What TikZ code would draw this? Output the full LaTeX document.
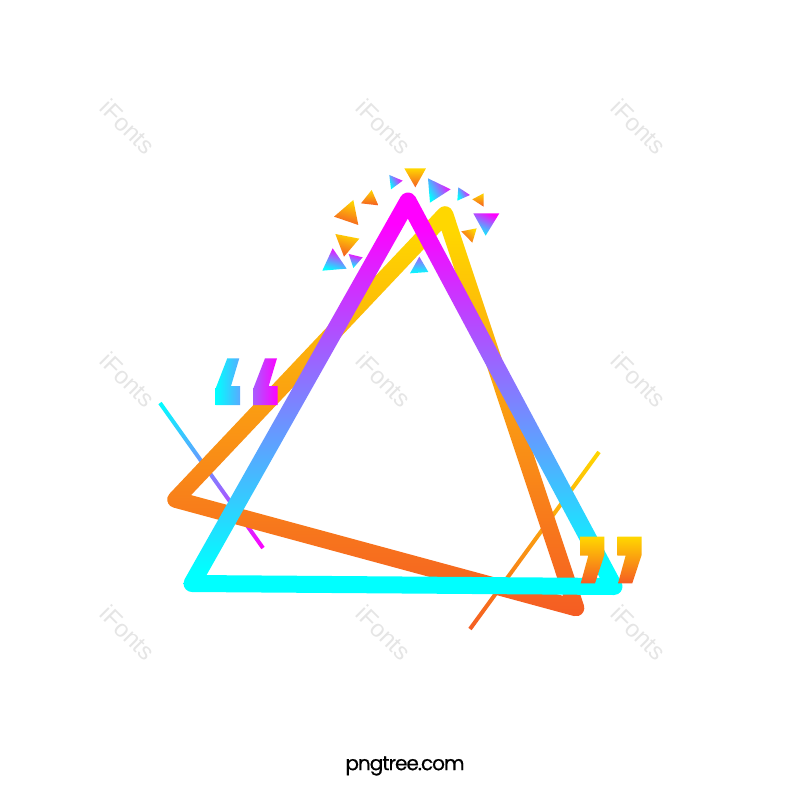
\documentclass[tikz,border=0pt]{standalone}
\usepackage{fontspec}
\newfontfamily\markfont{Liberation Sans}
\newfontfamily\brandfont[LetterSpace=-5,FakeBold=0.5]{Poppins}
\definecolor{hotpink}{RGB}{255,0,255}
\definecolor{aqua}{RGB}{0,255,255}
\definecolor{skyish}{RGB}{90,170,255}
\definecolor{violetish}{RGB}{170,90,255}
\definecolor{gold}{RGB}{255,215,0}
\definecolor{amber}{RGB}{250,150,20}
\definecolor{rust}{RGB}{245,92,35}
\pgfdeclareverticalshading{coolstroke}{100bp}{color(0bp)=(aqua); color(28bp)=(aqua); color(71bp)=(hotpink); color(100bp)=(hotpink)}
\pgfdeclareverticalshading{warmstroke}{100bp}{color(0bp)=(rust); color(25bp)=(rust); color(48bp)=(amber); color(72bp)=(gold); color(100bp)=(gold)}
\tikzset{
 wmark/.style={rotate=-45,text=black!10,font=\markfont\fontsize{24}{24}\selectfont},
 warm/.style={top color=gold,bottom color=rust,shading angle=#1},
 warm/.default=0,
 cool/.style={top color=hotpink,bottom color=aqua,shading angle=#1},
 cool/.default=0
}
\begin{document}
\begin{tikzpicture}[x=1pt,y=-1pt,line join=round]
 \useasboundingbox (0,0) rectangle (800,800);
 \fill[white] (0,0) rectangle (800,800);
 \foreach\mx in{128,384,639}{\foreach\my in{127,380,633}{\node[wmark] (mark\mx\my) at (\mx,\my){iFonts};}}
 % thin lines
 \shade[top color=aqua,bottom color=hotpink] (161.6,401.8)--(264.6,546.8)--(261.4,549.2)--(158.4,404.2)--cycle;
 \shade[warm] (600.6,453.2)--(471.6,630.2)--(468.4,627.8)--(597.4,450.8)--cycle;
 % big triangles
 \shade[shading=warmstroke,even odd rule] (438.97,208.8) arc[start angle=-136.6,end angle=-18.4,radius=8.3]--(583.88,605.38) arc[start angle=-18.4,end angle=105.2,radius=8.3]--(173.33,507.51) arc[start angle=105.2,end angle=223.4,radius=8.3]--cycle (441.5,230.3)--(563.2,595.9)--(191.1,495.1)--cycle;
 \shade[shading=coolstroke,even odd rule] (400.6,196.8) arc[start angle=-150.5,end angle=-28.1,radius=8.5]--(621.5,582.5) arc[start angle=-28.1,end angle=89.6,radius=8.5]--(192.06,592) arc[start angle=89.6,end angle=209.5,radius=8.5]--cycle (407.8,218.6)--(599.8,577.9)--(206.5,575.1)--cycle;
 % quotes
 \shade[left color=aqua,right color=skyish] (227.3,358.3)--(239.3,358.3)--(231,386)--(240,386)--(240,405)--(215.7,405)--(215.7,388.3)--cycle;
 \shade[left color=violetish,right color=hotpink] (265,358.3)--(277,358.3)--(268.7,386)--(277.7,386)--(277.7,405)--(253.4,405)--(253.4,388.3)--cycle;
 \foreach\i in{0,37.3}{
 \shade[warm,xshift=\i] (580,536.7)--(604.3,536.7)--(604.3,555)--(595,583.3)--(580.7,583.3)--(588.3,555.7)--(580,555.7)--cycle;
 }
 % little shards
 \begin{scope}[x=.3333pt,y=-.3333pt,xshift=310pt,yshift=-160pt]
 \shade[warm] (283,25)--(348,25)--(316,82)--cycle;
 \shade[warm] (185,90)--(205,136)--(153,130)--cycle;
 \shade[warm=-15] (130,120)--(145,195)--(72,170)--cycle;
 \shade[warm=-15] (76,222)--(148,236)--(102,290)--cycle;
 \shade[warm] (521,100)--(487,118)--(521,140)--cycle;
 \shade[warm=-45] (500,205)--(454,214)--(487,248)--cycle;
 \shade[cool=-60] (238,45)--(278,62)--(243,88)--cycle;
 \shade[cool=-60] (354,55)--(422,88)--(360,128)--cycle;
 \shade[cool=-60] (445,82)--(480,105)--(442,122)--cycle;
 \shade[cool=-25] (490,160)--(568,160)--(527,227)--cycle;
 \shade[cool=-15] (68,265)--(110,326)--(37,332)--cycle;
 \shade[cool=-15] (116,282)--(158,292)--(130,324)--cycle;
 \shade[top color=violetish,bottom color=aqua] (328,290)--(355,336)--(300,340)--cycle;
 \end{scope}
 \node (brand) at (405,766){\brandfont\fontsize{20}{20}\selectfont pngtree.com};
\end{tikzpicture}
\end{document}
